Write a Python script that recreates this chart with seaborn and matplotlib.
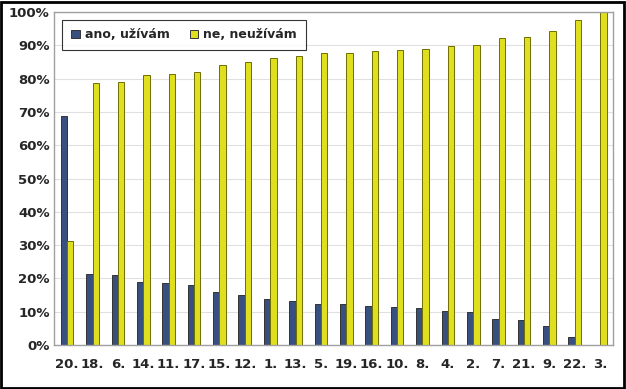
import numpy as np
import pandas as pd
import matplotlib
matplotlib.use("Agg")
import matplotlib.pyplot as plt
import seaborn as sns
from matplotlib.ticker import PercentFormatter

# data (percent)
categories = ["20.", "18.", "6.", "14.", "11.", "17.", "15.", "12.", "1.", "13.", "5.",
              "19.", "16.", "10.", "8.", "4.", "2.", "7.", "21.", "9.", "22.", "3."]
ano = [68.7, 21.3, 21.1, 18.8, 18.5, 18.0, 15.8, 15.1, 13.9, 13.1, 12.4,
       12.3, 11.6, 11.4, 11.1, 10.2, 10.0, 7.7, 7.6, 5.6, 2.5, 0.0]
ne = [31.3, 78.7, 78.9, 81.2, 81.5, 82.0, 84.2, 84.9, 86.1, 86.9, 87.6,
      87.7, 88.4, 88.6, 88.9, 89.8, 90.0, 92.3, 92.4, 94.4, 97.5, 100.0]
series = ["ano, užívám", "ne, neužívám"]

df = pd.DataFrame({
    "kat": categories * 2,
    "val": ano + ne,
    "odp": [series[0]] * len(categories) + [series[1]] * len(categories),
})

sns.set_style("white")
plt.rcParams["font.family"] = ["DejaVu Sans"]

fig = plt.figure(figsize=(6.26, 3.89), dpi=100)
ax = fig.add_axes([0.087, 0.113, 0.892, 0.856])

sns.barplot(data=df, x="kat", y="val", hue="odp", order=categories,
            palette=["#2B4C8C", "#FFFF00"], width=0.5, gap=0,
            edgecolor="#333333", linewidth=0.7, ax=ax)
for bar in ax.containers[1]:
    bar.set_edgecolor("#6E6E00")

ax.set_ylim(0, 100)
ax.set_xlim(-0.5, len(categories) - 0.5)
ax.set_yticks(np.arange(0, 101, 10))
ax.yaxis.set_major_formatter(PercentFormatter(decimals=0))
ax.yaxis.grid(True, color="#E0E0E0", linewidth=0.8)
ax.set_axisbelow(True)
ax.set_xlabel("")
ax.set_ylabel("")
for s in ax.spines.values():
    s.set_color("#A0A0A0")
    s.set_linewidth(1)
ax.tick_params(axis="both", length=0, labelsize=9.5)
ax.tick_params(axis="x", pad=9)
for t in ax.get_xticklabels() + ax.get_yticklabels():
    t.set_fontweight("bold")

leg = ax.legend(loc="upper left", bbox_to_anchor=(0.014, 0.977), borderaxespad=0,
                ncol=2, frameon=True, fancybox=False, edgecolor="black",
                prop={"weight": "bold", "size": 9}, handlelength=0.7,
                handleheight=0.7, columnspacing=1.6, handletextpad=0.4,
                borderpad=0.7)
leg.get_frame().set_linewidth(0.8)

# outer frame of the figure
fig.patches.append(plt.Rectangle((0.002, 0.003), 0.995, 0.993, transform=fig.transFigure,
                                 fill=False, edgecolor="black", linewidth=2))

fig.savefig("out.png", dpi=100)
